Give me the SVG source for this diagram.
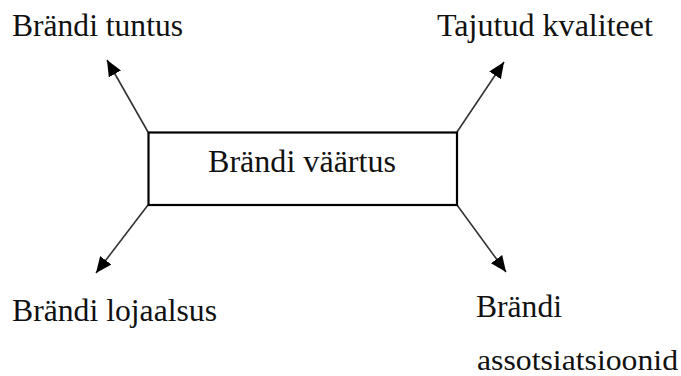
<svg xmlns="http://www.w3.org/2000/svg" width="681" height="376" viewBox="0 0 681 376">
<defs>
<marker id="ah" markerUnits="userSpaceOnUse" markerWidth="18" markerHeight="14" refX="16" refY="7" orient="auto">
<path d="M0,0 L16,7 L0,14 Z" fill="#000"/>
</marker>
<style>
text{font-family:"Liberation Serif","Times New Roman",serif;font-size:31.5px;fill:#111}
.c{stroke:#333;stroke-width:1.6;fill:none;marker-end:url(#ah)}
.box{fill:#fff;stroke:#000;stroke-width:2.2}
</style>
</defs>
<rect width="681" height="376" fill="#fff"/>
<g id="connectors">
<line class="c" x1="148" y1="132" x2="107" y2="60"/>
<line class="c" x1="457" y1="132" x2="504" y2="62"/>
<line class="c" x1="148" y1="205" x2="96" y2="273"/>
<line class="c" x1="457" y1="205" x2="506" y2="272"/>
</g>
<g id="brand-value">
<rect class="box" x="148.5" y="132.5" width="308.5" height="72.5"/>
<text x="208" y="171.5" textLength="188" lengthAdjust="spacingAndGlyphs">Brändi väärtus</text>
</g>
<g id="brand-awareness">
<text x="12" y="35.5" textLength="171" lengthAdjust="spacingAndGlyphs">Brändi tuntus</text>
</g>
<g id="perceived-quality">
<text x="437" y="35.5" textLength="216" lengthAdjust="spacingAndGlyphs">Tajutud kvaliteet</text>
</g>
<g id="brand-loyalty">
<text x="12" y="320.5" textLength="205" lengthAdjust="spacingAndGlyphs">Brändi lojaalsus</text>
</g>
<g id="brand-associations">
<text x="476" y="316.5" textLength="86" lengthAdjust="spacingAndGlyphs">Brändi</text>
<text x="477" y="369.5" style="font-size:29.5px" textLength="201" lengthAdjust="spacingAndGlyphs">assotsiatsioonid</text>
</g>
</svg>
